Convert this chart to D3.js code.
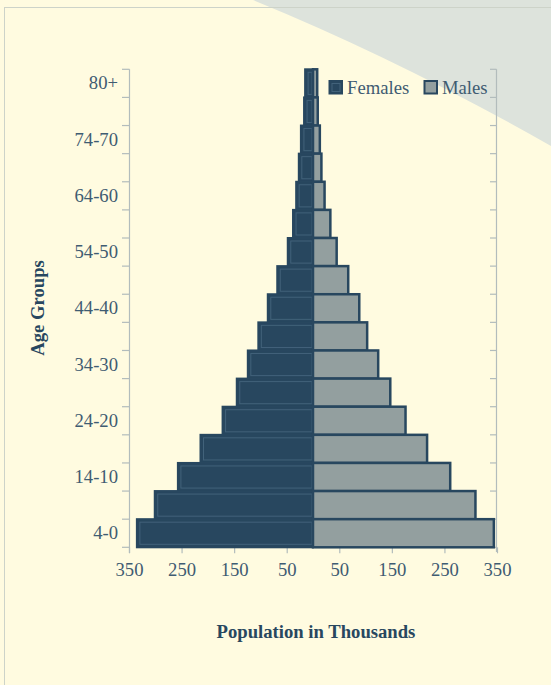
<!DOCTYPE html>
<html>
<head>
<meta charset="utf-8">
<script src="https://cdn.jsdelivr.net/npm/d3@7"></script>
<style>
  html, body { margin: 0; padding: 0; background: #fffbe0; }
  svg { display: block; }
</style>
</head>
<body>
<svg id="chart" width="551" height="685"></svg>
<script>
// ---- data ----
const ageGroups = ["80+","79-75","74-70","69-65","64-60","59-55","54-50","49-45","44-40","39-35","34-30","29-25","24-20","19-15","14-10","9-5","4-0"];
const females = [15, 17, 23, 27, 32, 38, 48, 68, 86, 104, 124, 145, 172, 214, 257, 301, 335];
const males   = [8, 9, 13, 16, 22, 33, 45, 67, 88, 103, 124, 147, 176, 217, 261, 309, 344];
const xTickValues = [-350, -250, -150, -50, 50, 150, 250, 350];
const shownAgeLabels = ["80+","74-70","64-60","54-50","44-40","34-30","24-20","14-10","4-0"];
const seriesNames = ["Females", "Males"];

// ---- styles ----
const femaleFill = "#28475f", femaleInner = "#42627a";
const maleFill = "#939f9f", maleStroke = "#28475f";
const labelColor = "#3f5c72", titleColor = "#28475f", axisColor = "#b2bcbc";
const font = "'Liberation Serif', 'Times New Roman', serif";

const svg = d3.select("#chart");
const W = 551, H = 685;

// background
svg.append("rect").attr("width", W).attr("height", H).attr("fill", "#fffbe0");
svg.append("path")
  .attr("d", "M253,0 Q400,60 551,146 L551,0 Z")
  .attr("fill", "#dde3dc");
svg.append("rect")
  .attr("x", 4.5).attr("y", 7.5).attr("width", 600).attr("height", 700)
  .attr("fill", "none").attr("stroke", "#cdd3c9").attr("stroke-width", 1);

// scales
const x = d3.scaleLinear().domain([-350, 350]).range([129, 497]);
const y = d3.scaleBand().domain(ageGroups).range([69.3, 547.3]).padding(0);
const x0 = x(0);

const data = ageGroups.map((g, i) => ({ g, f: females[i], m: males[i] }));

// axes lines
const g = svg.append("g");
g.append("line").attr("x1", 129.5).attr("x2", 129.5).attr("y1", 69.3).attr("y2", 553)
  .attr("stroke", axisColor).attr("stroke-width", 1.2);
g.append("line").attr("x1", 496.5).attr("x2", 496.5).attr("y1", 69.3).attr("y2", 552)
  .attr("stroke", axisColor).attr("stroke-width", 1.2);

const boundaries = ageGroups.map(a => y(a)).concat([y.range()[1]]);
g.selectAll("line.lt").data(boundaries).join("line").attr("class", "lt")
  .attr("x1", 122).attr("x2", 129.5).attr("y1", d => d).attr("y2", d => d)
  .attr("stroke", axisColor).attr("stroke-width", 1.2);
g.selectAll("line.rt").data(boundaries).join("line").attr("class", "rt")
  .attr("x1", 490).attr("x2", 496.5).attr("y1", d => d).attr("y2", d => d)
  .attr("stroke", axisColor).attr("stroke-width", 1.2);

// y labels
g.selectAll("text.yl").data(shownAgeLabels).join("text").attr("class", "yl")
  .attr("x", 118).attr("y", d => y(d) + y.bandwidth() / 2 + 6)
  .attr("text-anchor", "end")
  .attr("font-family", font).attr("font-size", "18.67px").attr("fill", labelColor)
  .text(d => d);

// x axis
const xAxis = d3.axisBottom(x).tickValues(xTickValues).tickFormat(d => Math.abs(d)).tickSize(6).tickPadding(4);
const xg = svg.append("g").attr("transform", "translate(0,547.3)").call(xAxis);
xg.select(".domain").remove();
xg.selectAll(".tick line").attr("stroke", axisColor).attr("stroke-width", 1.2);
xg.selectAll(".tick text").attr("font-family", font).attr("font-size", "18.67px")
  .attr("fill", labelColor).attr("dy", null).attr("y", 28.5);

// bars: females
const bars = svg.append("g");
bars.selectAll("rect.f").data(data).join("rect").attr("class", "f")
  .attr("x", d => x(-d.f)).attr("y", d => y(d.g))
  .attr("width", d => x0 - x(-d.f)).attr("height", y.bandwidth())
  .attr("fill", femaleFill).attr("stroke", femaleFill).attr("stroke-width", 2);
bars.selectAll("rect.fi").data(data).join("rect").attr("class", "fi")
  .attr("x", d => x(-d.f) + 3).attr("y", d => y(d.g) + 3)
  .attr("width", d => Math.max(0, x0 - x(-d.f) - 4)).attr("height", y.bandwidth() - 6)
  .attr("fill", "none").attr("stroke", femaleInner).attr("stroke-width", 1);
// bars: males
bars.selectAll("rect.m").data(data).join("rect").attr("class", "m")
  .attr("x", x0).attr("y", d => y(d.g))
  .attr("width", d => x(d.m) - x0).attr("height", y.bandwidth())
  .attr("fill", maleFill).attr("stroke", maleStroke).attr("stroke-width", 2.5);

// legend
const lg = svg.append("g");
const legendItems = [
  { name: seriesNames[0], x: 329.5, tx: 347, fill: femaleFill },
  { name: seriesNames[1], x: 424.5, tx: 442, fill: maleFill }
];
legendItems.forEach((it, i) => {
  lg.append("rect").attr("x", it.x).attr("y", 81).attr("width", 12.5).attr("height", 12.5)
    .attr("fill", it.fill).attr("stroke", femaleFill).attr("stroke-width", 2);
  if (i === 0) {
    lg.append("rect").attr("x", it.x + 2.5).attr("y", 83.5).attr("width", 8).attr("height", 8)
      .attr("fill", "none").attr("stroke", femaleInner).attr("stroke-width", 1);
  }
  lg.append("text").attr("x", it.tx).attr("y", 94)
    .attr("font-family", font).attr("font-size", "18.67px").attr("fill", labelColor)
    .text(it.name);
});

// titles
svg.append("text")
  .attr("transform", "translate(44,308) rotate(-90)")
  .attr("text-anchor", "middle")
  .attr("font-family", font).attr("font-size", "18.67px").attr("font-weight", "bold")
  .attr("fill", titleColor).text("Age Groups");
svg.append("text")
  .attr("x", 316).attr("y", 638).attr("text-anchor", "middle")
  .attr("font-family", font).attr("font-size", "18.67px").attr("font-weight", "bold")
  .attr("fill", titleColor).text("Population in Thousands");
</script>
</body>
</html>
